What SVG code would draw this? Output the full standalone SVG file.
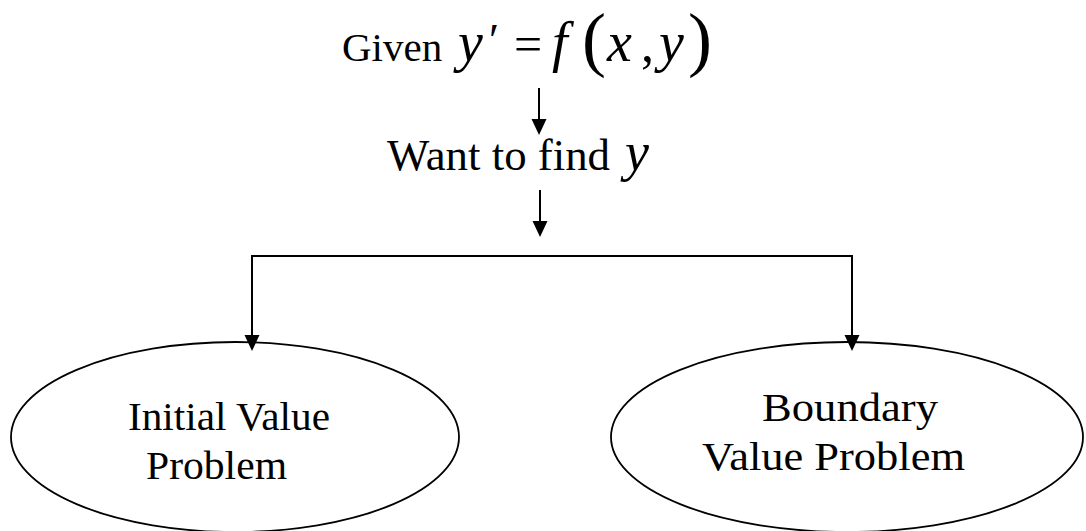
<svg xmlns="http://www.w3.org/2000/svg" width="1086" height="531" viewBox="0 0 1086 531">
  <style>
    .t { font-family: "Liberation Serif", "Times New Roman", serif; fill: #000; }
    .m { font-family: "Liberation Serif", "Times New Roman", serif; font-style: italic; fill: #000; }
    .conn { stroke: #000; stroke-width: 2; fill: none; }
    .head { fill: #000; stroke: none; }
    .node { stroke: #000; stroke-width: 1.8; fill: #fff; }
  </style>
  <rect width="1086" height="531" fill="#fff"/>

  <g id="node-given">
    <text class="t" x="342" y="61" font-size="41">Given</text>
    <text class="m" x="458" y="61" font-size="56">y</text>
    <text class="t" x="489" y="56" font-size="46">′</text>
    <text class="t" x="514" y="61" font-size="50">=</text>
    <text class="m" x="552" y="61" font-size="56">f</text>
    <text class="t" x="582" y="63" font-size="72">(</text>
    <text class="m" x="607" y="61" font-size="56">x</text>
    <text class="t" x="641" y="61" font-size="52">,</text>
    <text class="m" x="659" y="61" font-size="56">y</text>
    <text class="t" x="688" y="63" font-size="72">)</text>
  </g>

  <g id="node-want">
    <text class="t" x="387" y="170" font-size="44" textLength="223" lengthAdjust="spacingAndGlyphs">Want to find</text>
    <text class="m" x="625" y="170" font-size="54">y</text>
  </g>

  <g id="node-ivp">
    <ellipse class="node" cx="235" cy="437" rx="224" ry="95"/>
    <text class="t" x="128" y="430" font-size="40" textLength="202" lengthAdjust="spacingAndGlyphs">Initial Value</text>
    <text class="t" x="146" y="479" font-size="40" textLength="141" lengthAdjust="spacingAndGlyphs">Problem</text>
  </g>

  <g id="node-bvp">
    <ellipse class="node" cx="847" cy="437" rx="236" ry="95"/>
    <text class="t" x="762" y="421" font-size="40" textLength="176" lengthAdjust="spacingAndGlyphs">Boundary</text>
    <text class="t" x="702" y="470" font-size="40" textLength="263" lengthAdjust="spacingAndGlyphs">Value Problem</text>
  </g>

  <g id="connectors">
    <line class="conn" x1="539" y1="88" x2="539" y2="122"/>
    <path class="head" d="M531.5,119 L546.5,119 L539,135 Z"/>
    <line class="conn" x1="540" y1="190" x2="540" y2="224"/>
    <path class="head" d="M532.5,221 L547.5,221 L540,237 Z"/>
    <polyline class="conn" points="252,338 252,256 852,256 852,338"/>
    <path class="head" d="M244.5,335 L259.5,335 L252,351 Z"/>
    <path class="head" d="M844.5,335 L859.5,335 L852,351 Z"/>
  </g>
</svg>
